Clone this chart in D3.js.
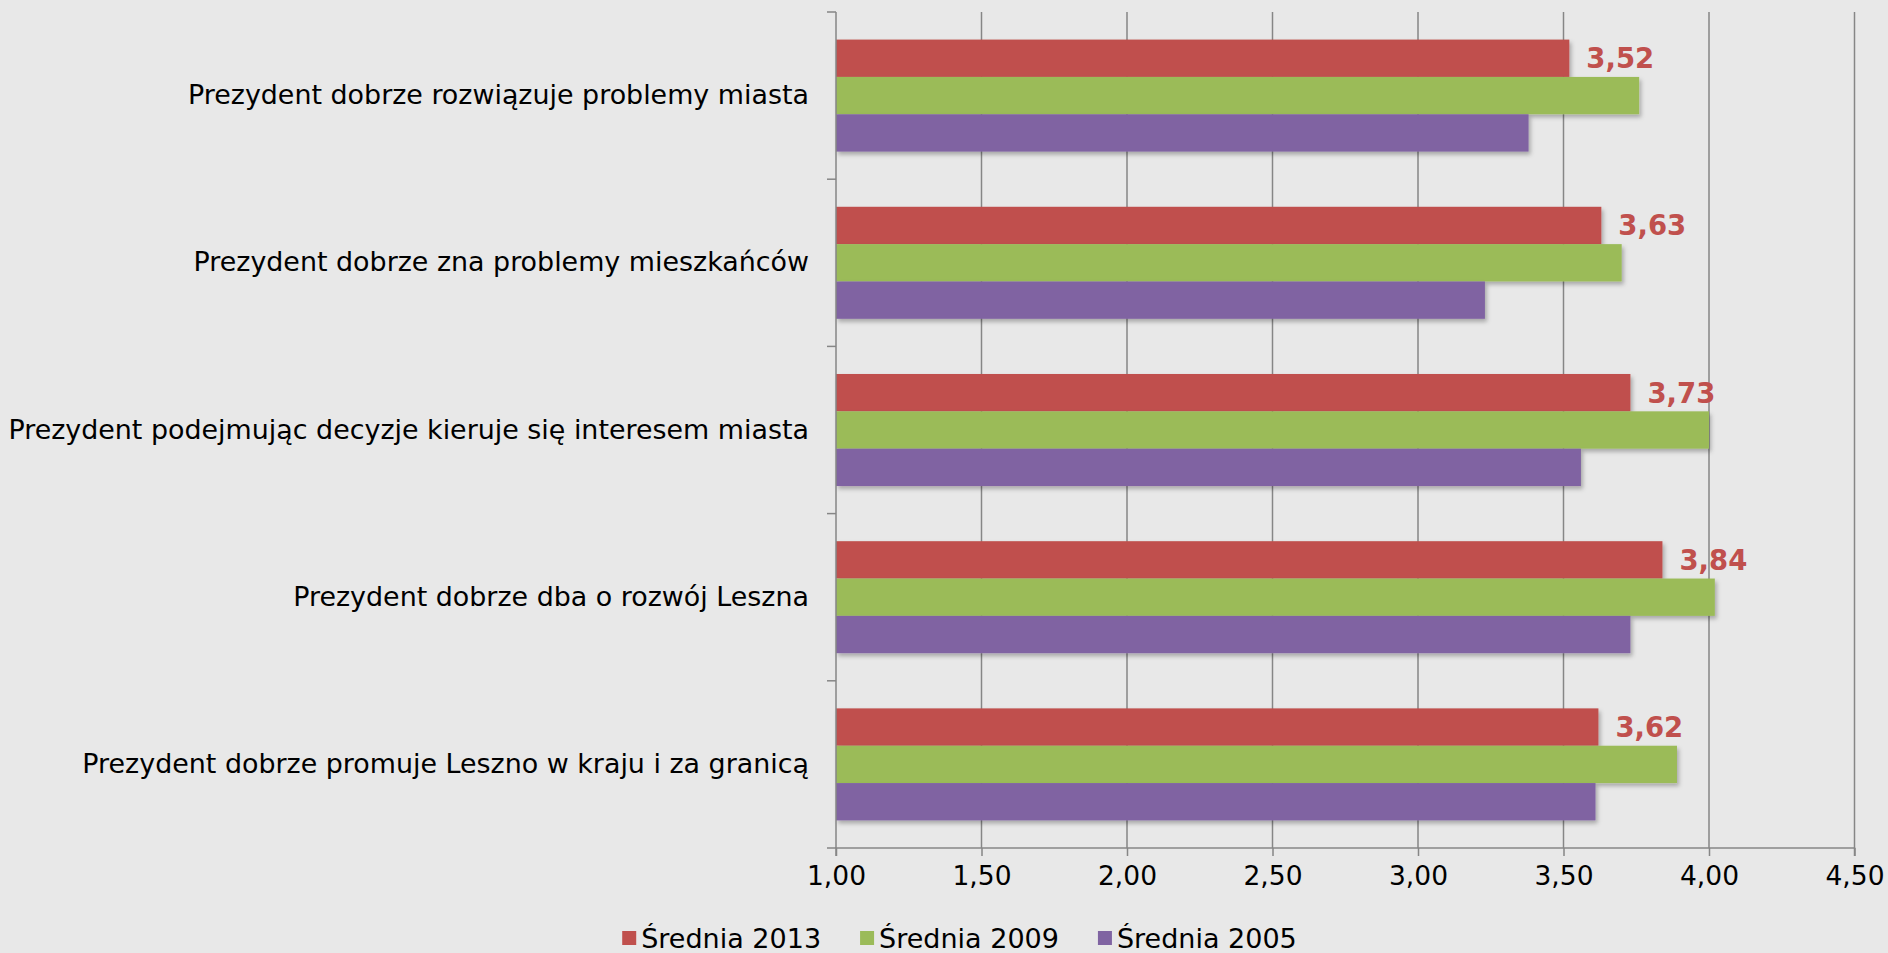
<!DOCTYPE html>
<html><head><meta charset="utf-8">
<script src="https://cdn.jsdelivr.net/npm/d3@7"></script>
<style>
html,body{margin:0;padding:0;background:#E8E8E8;}
svg{display:block;font-family:"DejaVu Sans",Verdana,sans-serif;}
</style></head><body>
<svg id="chart" width="1888" height="953"></svg>
<script>
const categories = [
  "Prezydent dobrze rozwiązuje problemy miasta",
  "Prezydent dobrze zna problemy mieszkańców",
  "Prezydent podejmując decyzje kieruje się interesem miasta",
  "Prezydent dobrze dba o rozwój Leszna",
  "Prezydent dobrze promuje Leszno w kraju i za granicą"
];
const seriesNames = ["Średnia 2013", "Średnia 2009", "Średnia 2005"];
const values2013 = [3.52, 3.63, 3.73, 3.84, 3.62];
const values2009 = [3.76, 3.70, 4.00, 4.02, 3.89];
const values2005 = [3.38, 3.23, 3.56, 3.73, 3.61];
const xTicks = [1.0, 1.5, 2.0, 2.5, 3.0, 3.5, 4.0, 4.5];
const colors = ["#C0504D", "#9BBB59", "#8064A2"];

const series = [values2013, values2009, values2005];
const svg = d3.select("#chart");
const plot = {left: 836, right: 1854.5, top: 12, bottom: 848};

const x = d3.scaleLinear().domain([1, 4.5]).range([plot.left, plot.right]);
const y0 = d3.scaleBand().domain(categories).range([plot.top, plot.bottom]).padding(0);
const groupFrac = 0.67;
const bw0 = y0.bandwidth();
const y1 = d3.scaleBand().domain(d3.range(series.length))
  .range([bw0*(1-groupFrac)/2, bw0 - bw0*(1-groupFrac)/2]).padding(0);

const defs = svg.append("defs");
const f = defs.append("filter").attr("id","sh").attr("x","-5%").attr("y","-20%").attr("width","115%").attr("height","160%");
f.append("feDropShadow").attr("dx",2).attr("dy",3).attr("stdDeviation",2).attr("flood-color","#000").attr("flood-opacity",0.28);

const fmt = v => d3.format(".2f")(v).replace(".", ",");

// gridlines
svg.append("g").selectAll("line").data(xTicks.slice(1)).join("line")
  .attr("x1", d => x(d)).attr("x2", d => x(d))
  .attr("y1", plot.top).attr("y2", plot.bottom)
  .attr("stroke", "#868686").attr("stroke-width", 1.5);

// bars
const gBars = svg.append("g");
categories.forEach((c, i) => {
  series.forEach((s, j) => {
    gBars.append("rect")
      .attr("x", x(1))
      .attr("y", y0(c) + y1(j))
      .attr("width", x(s[i]) - x(1))
      .attr("height", y1.bandwidth())
      .attr("fill", colors[j])
      .attr("filter", "url(#sh)");
  });
});

// value labels for 2013
svg.append("g").selectAll("text").data(categories).join("text")
  .attr("x", (c, i) => x(values2013[i]) + 17)
  .attr("y", c => y0(c) + y1(0) + y1.bandwidth()/2)
  .attr("dy", "0.36em")
  .attr("font-size", 27.5).attr("font-weight", "bold")
  .attr("fill", colors[0])
  .text((c, i) => fmt(values2013[i]));

// bottom axis
const xAxis = d3.axisBottom(x).tickValues(xTicks).tickFormat(fmt).tickSize(8).tickPadding(10);
const gx = svg.append("g").attr("transform", `translate(0,${plot.bottom})`).call(xAxis);
gx.select(".domain").attr("stroke", "#868686").attr("stroke-width", 1.5).attr("d", `M${plot.left},8V0H${plot.right}V8`);
gx.selectAll(".tick line").attr("stroke", "#868686").attr("stroke-width", 1.5);
gx.selectAll(".tick text").attr("font-size", 26.5).attr("fill", "#000").attr("font-family", "DejaVu Sans, Verdana, sans-serif");

// left axis
const yAxis = d3.axisLeft(y0).tickSize(0).tickPadding(27);
const gy = svg.append("g").attr("transform", `translate(${plot.left},0)`).call(yAxis);
gy.select(".domain").attr("stroke", "#868686").attr("stroke-width", 1.5).attr("d", `M0,${plot.top}V${plot.bottom}`);
gy.selectAll(".tick text").attr("font-size", 26.9).attr("fill", "#000").attr("font-family", "DejaVu Sans, Verdana, sans-serif");
// category boundary ticks
const bounds = categories.map(c => y0(c)).concat([plot.bottom]);
svg.append("g").selectAll("line").data(bounds).join("line")
  .attr("x1", plot.left - 9).attr("x2", plot.left)
  .attr("y1", d => d).attr("y2", d => d)
  .attr("stroke", "#868686").attr("stroke-width", 1.5);

// legend
const leg = svg.append("g");
let cx = 0;
seriesNames.forEach((n, j) => {
  const g = leg.append("g");
  g.append("rect").attr("x", 0).attr("y", -7).attr("width", 14).attr("height", 14).attr("fill", colors[j]);
  const t = g.append("text").attr("x", 19).attr("dy", "0.36em").attr("font-size", 27).attr("fill", "#000").text(n);
  const w = 19 + t.node().getComputedTextLength();
  g.attr("transform", `translate(${cx},0)`);
  cx += w + 39;
});
const legW = cx - 39;
leg.attr("transform", `translate(${959.5 - legW/2},938)`);
</script>
</body></html>
